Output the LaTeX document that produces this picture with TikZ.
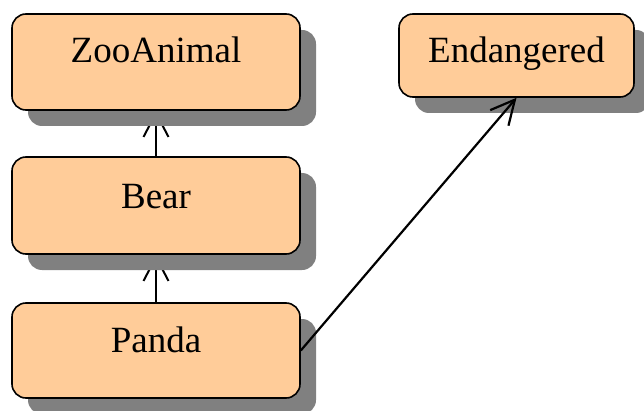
\documentclass[tikz,border=0pt]{standalone}
\usepackage{fontspec}
\setmainfont{Liberation Serif}
\usetikzlibrary{arrows.meta,shadows}
\definecolor{boxfill}{RGB}{255,204,153}
\definecolor{shadowgray}{RGB}{128,128,128}
\pgfdeclarelayer{back}
\pgfsetlayers{back,main}
\begin{document}
\begin{tikzpicture}[x=1pt,y=1pt,
  classbox/.style={draw=black, line width=1.6pt, fill=boxfill, rounded corners=14pt,
    inner sep=0pt, align=center, font=\fontsize{37}{44}\selectfont,
    drop shadow={shadow xshift=16pt, shadow yshift=-16pt, fill=shadowgray, opacity=1}},
  inherit/.style={line width=2pt, -{Straight Barb[length=24pt,width=25pt,line width=2pt]}},
  assoc/.style={line width=2.2pt, -{Straight Barb[length=24pt,width=24pt,line width=2.2pt]}}
]
\useasboundingbox (0,0) rectangle (644,410);
\node[classbox, minimum width=288pt, text height=49pt, text depth=47pt] (zoo) at (156,348) {ZooAnimal};
\node[classbox, minimum width=288pt, text height=51pt, text depth=46pt] (bear) at (156,204.5) {Bear};
\node[classbox, minimum width=288pt, text height=49pt, text depth=46pt] (panda) at (156,59.5) {Panda};
\node[classbox, minimum width=235pt, text height=49pt, text depth=34pt] (endangered) at (516.5,354.5) {Endangered};
\begin{pgfonlayer}{back}
\draw[inherit] (bear.north) -- (zoo.south);
\draw[inherit] (panda.north) -- (bear.south);
\end{pgfonlayer}
\draw[assoc] (panda.east) -- (endangered.south);
\end{tikzpicture}
\end{document}
